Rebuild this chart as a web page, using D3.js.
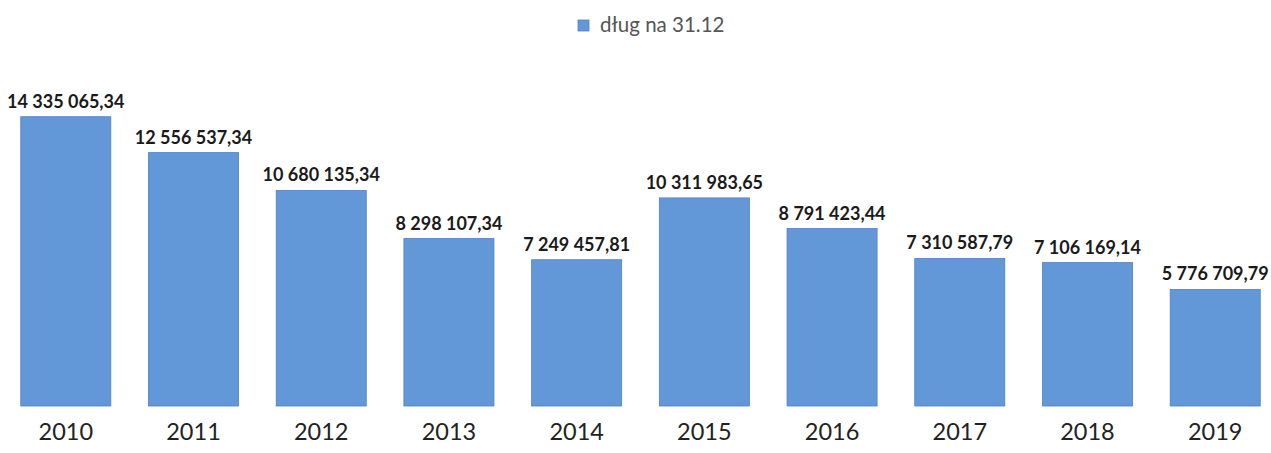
<!DOCTYPE html>
<html>
<head>
<meta charset="utf-8">
<script src="https://cdn.jsdelivr.net/npm/d3@7"></script>
<style>
  body { margin: 0; background: #fff; }
  svg { display: block; }
</style>
</head>
<body>
<div id="chart"></div>
<script>
// dane
const years = ["2010", "2011", "2012", "2013", "2014", "2015", "2016", "2017", "2018", "2019"];
const debt = [14335065.34, 12556537.34, 10680135.34, 8298107.34, 7249457.81,
              10311983.65, 8791423.44, 7310587.79, 7106169.14, 5776709.79];
const seriesName = "dług na 31.12";

const width = 1271, height = 453;
const baseY = 406;

const svg = d3.select("#chart")
    .append("svg")
    .attr("width", width)
    .attr("height", height);

const x = d3.scaleBand()
    .domain(years)
    .range([2, 1279])
    .paddingInner(0.295)
    .paddingOuter(0.147);

const y = d3.scaleLinear()
    .domain([0, 16000000])
    .range([baseY, baseY - 20.18 * 16]);

// format "14 335 065,34"
function fmt(v) {
    const s = v.toFixed(2).split(".");
    return s[0].replace(/\B(?=(\d{3})+(?!\d))/g, " ") + "," + s[1];
}

// słupki
svg.selectAll(".bar")
    .data(debt)
    .join("rect")
    .attr("class", "bar")
    .attr("x", (d, i) => x(years[i]))
    .attr("y", d => y(d))
    .attr("width", x.bandwidth())
    .attr("height", d => baseY - y(d))
    .attr("fill", "#6398d8")
    .attr("stroke", "#4f80c2")
    .attr("stroke-width", 0.8);

// etykiety wartości
svg.selectAll(".lbl")
    .data(debt)
    .join("text")
    .attr("class", "lbl")
    .attr("x", (d, i) => x(years[i]) + x.bandwidth() / 2)
    .attr("y", d => y(d) - 9)
    .attr("text-anchor", "middle")
    .attr("font-family", "Lato, 'Open Sans', sans-serif")
    .attr("font-weight", "bold")
    .attr("font-size", "18px")
    .attr("fill", "#1a1a1a")
    .text(d => fmt(d));

// oś X
const xAxis = svg.append("g")
    .attr("transform", "translate(0," + baseY + ")")
    .call(d3.axisBottom(x).tickSize(0).tickPadding(17));
xAxis.select(".domain").remove();
xAxis.selectAll("text")
    .attr("font-family", "Lato, 'Open Sans', sans-serif")
    .attr("font-size", "23.5px")
    .attr("fill", "#222");

// legenda
const legend = svg.append("g").attr("transform", "translate(578,20)");
legend.append("rect")
    .attr("width", 11)
    .attr("height", 11)
    .attr("fill", "#6398d8")
    .attr("stroke", "#4f80c2")
    .attr("stroke-width", 0.8);
legend.append("text")
    .attr("x", 22)
    .attr("y", 12)
    .attr("font-family", "Lato, 'Open Sans', sans-serif")
    .attr("font-size", "20.5px")
    .attr("fill", "#555")
    .text(seriesName);
</script>
</body>
</html>
